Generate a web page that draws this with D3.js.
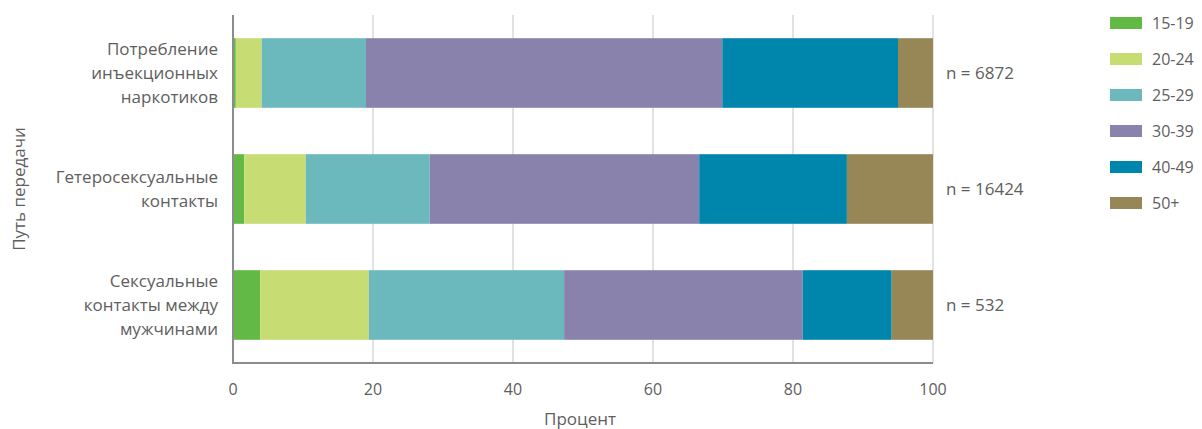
<!DOCTYPE html>
<html><head><meta charset="utf-8">
<script src="https://cdn.jsdelivr.net/npm/d3@7"></script>
<style>body{margin:0;background:#fff}svg text{font-family:"Open Sans",sans-serif;fill:#5e5e5e}</style>
</head><body><svg id="c" width="1202" height="429"></svg>
<script>
const categories = ["Потребление инъекционных наркотиков", "Гетеросексуальные контакты", "Сексуальные контакты между мужчинами"];
const categoryLines = [["Потребление","инъекционных","наркотиков"],["Гетеросексуальные","контакты"],["Сексуальные","контакты между","мужчинами"]];
const ageGroups = ["15-19","20-24","25-29","30-39","40-49","50+"];
const s15_19 = [0.4, 1.6, 3.9];
const s20_24 = [3.7, 8.8, 15.5];
const s25_29 = [14.9, 17.7, 27.9];
const s30_39 = [50.9, 38.5, 34.1];
const s40_49 = [25.1, 21.1, 12.7];
const s50p = [5.0, 12.3, 5.9];
const nLabels = ["n = 6872", "n = 16424", "n = 532"];
const xTicks = [0,20,40,60,80,100];
const colors = ["#62b946","#c8dc74","#6bb9bd","#8982ad","#0086ac","#978656"];

const series = [s15_19,s20_24,s25_29,s30_39,s40_49,s50p];
const rows = categories.map((c,i)=>{const o={cat:c}; ageGroups.forEach((g,j)=>o[g]=series[j][i]); return o;});
const stack = d3.stack().keys(ageGroups)(rows);

const svg = d3.select("#c");
const x = d3.scaleLinear().domain([0,100]).range([233,933]);
const y = d3.scaleBand().domain(categories).range([15,363]).paddingInner(0.4).paddingOuter(0.2);

// grid
svg.append("g").selectAll("line").data(xTicks.slice(1)).join("line")
  .attr("x1",d=>x(d)).attr("x2",d=>x(d)).attr("y1",15).attr("y2",363)
  .attr("stroke","#d9d9d9").attr("stroke-width",1.5);

// bars
svg.append("g").selectAll("g").data(stack).join("g").attr("fill",(d,i)=>colors[i])
  .selectAll("rect").data(d=>d).join("rect")
  .attr("x",d=>x(d[0])).attr("width",d=>x(d[1])-x(d[0]))
  .attr("y",d=>y(d.data.cat)).attr("height",y.bandwidth());

// axes lines
svg.append("line").attr("x1",x(0)).attr("x2",x(0)).attr("y1",15).attr("y2",364).attr("stroke","#8c8c8c").attr("stroke-width",2);
svg.append("line").attr("x1",x(0)-1).attr("x2",x(100)).attr("y1",363).attr("y2",363).attr("stroke","#8c8c8c").attr("stroke-width",2);

// x tick labels
svg.append("g").selectAll("text").data(xTicks).join("text")
  .attr("x",d=>x(d)).attr("y",395).attr("text-anchor","middle").attr("font-size",16).text(d=>d);
svg.append("text").attr("x",x(50)-3).attr("y",425).attr("text-anchor","middle").attr("font-size",17).text("Процент");

// category labels
categories.forEach((c,i)=>{
  const lines = categoryLines[i];
  const cy = y(c)+y.bandwidth()/2;
  const t = svg.append("text").attr("text-anchor","end").attr("font-size",17);
  lines.forEach((l,k)=>{
    t.append("tspan").attr("x",218).attr("y",cy + (k-(lines.length-1)/2)*24 + 6).text(l);
  });
});
svg.append("text").attr("transform","translate(25,189) rotate(-90)").attr("text-anchor","middle").attr("font-size",17).text("Путь передачи");

// n labels
svg.append("g").selectAll("text").data(categories).join("text")
  .attr("x",946).attr("y",d=>y(d)+y.bandwidth()/2+6).attr("font-size",17).text((d,i)=>nLabels[i]);

// legend
const lg = svg.append("g").selectAll("g").data(ageGroups).join("g").attr("transform",(d,i)=>`translate(1110,${17+i*36})`);
lg.append("rect").attr("width",32).attr("height",12).attr("fill",(d,i)=>colors[i]);
lg.append("text").attr("x",42).attr("y",12).attr("font-size",16).text(d=>d);
</script></body></html>
